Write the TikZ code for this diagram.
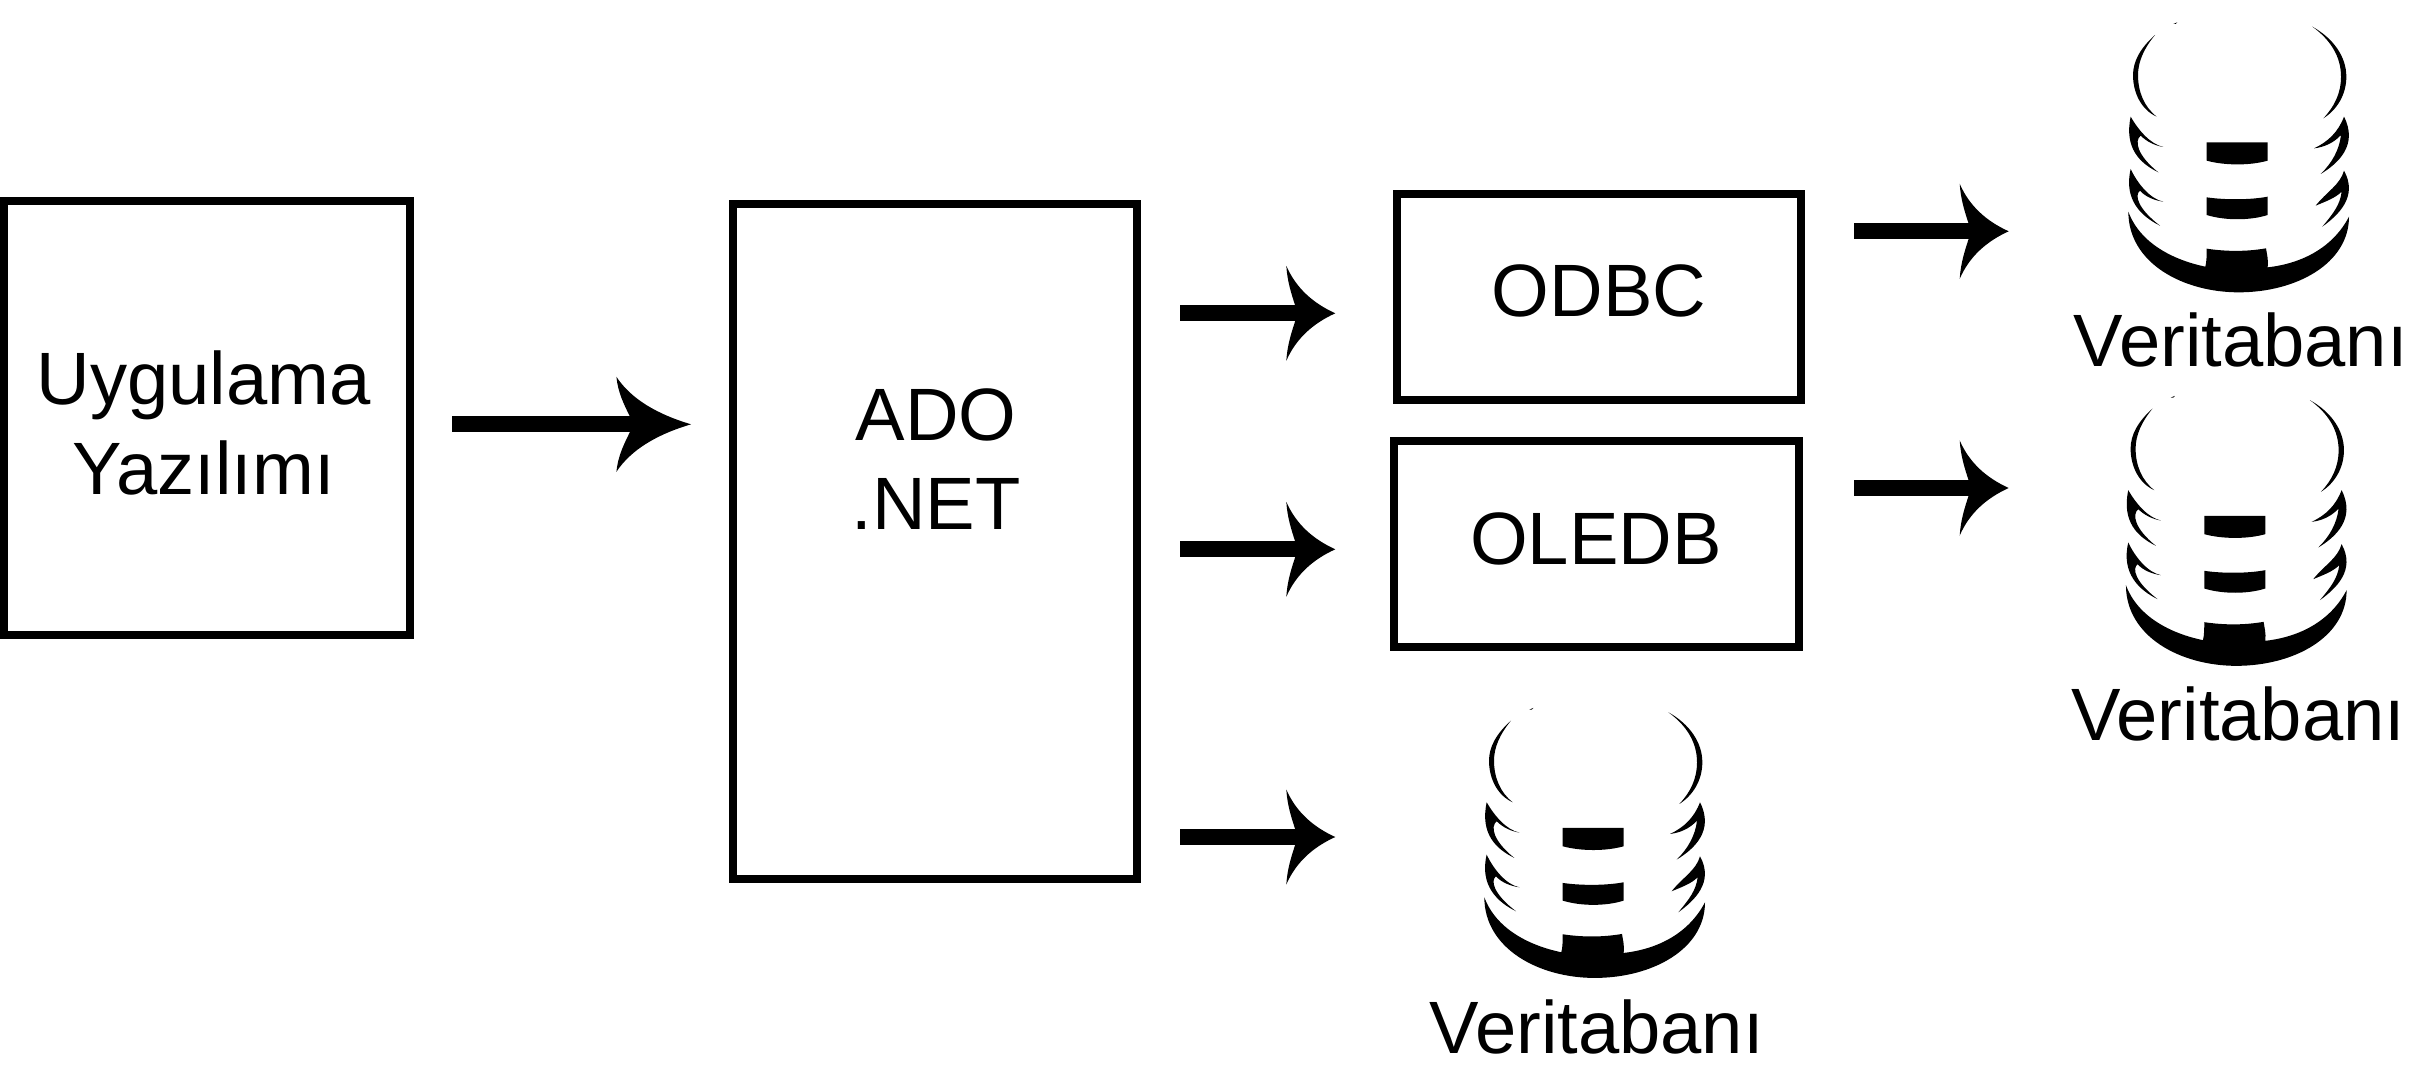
\documentclass[tikz,border=0pt]{standalone}
\usepackage{fontspec}
\setmainfont{Liberation Sans}
\usetikzlibrary{arrows.meta}
\pgfdeclarearrow{
  name=Swoosh,
  parameters={\the\pgfarrowlength},
  setup code={
    \pgfarrowssettipend{0pt}
    \pgfarrowssetbackend{-\pgfarrowlength}
    \pgfarrowssetlineend{-0.7\pgfarrowlength}
    \pgfarrowssavethe\pgfarrowlength
  },
  drawing code={
    \pgfpathmoveto{\pgfqpoint{0pt}{0pt}}
    \pgfpathcurveto{\pgfqpoint{-0.45\pgfarrowlength}{10pt}}{\pgfqpoint{-0.8\pgfarrowlength}{25pt}}{\pgfqpoint{-\pgfarrowlength}{47.5pt}}
    \pgfpathcurveto{\pgfqpoint{-0.98\pgfarrowlength}{32pt}}{\pgfqpoint{-0.9\pgfarrowlength}{20pt}}{\pgfqpoint{-0.82\pgfarrowlength}{8pt}}
    \pgfpathlineto{\pgfqpoint{-0.82\pgfarrowlength}{-8pt}}
    \pgfpathcurveto{\pgfqpoint{-0.9\pgfarrowlength}{-20pt}}{\pgfqpoint{-0.98\pgfarrowlength}{-32pt}}{\pgfqpoint{-\pgfarrowlength}{-47.5pt}}
    \pgfpathcurveto{\pgfqpoint{-0.8\pgfarrowlength}{-25pt}}{\pgfqpoint{-0.45\pgfarrowlength}{-10pt}}{\pgfqpoint{0pt}{0pt}}
    \pgfpathclose
    \pgfusepathqfill
  },
  defaults={length=49pt}
}
\tikzset{
  boxed/.style={draw=black,line width=8pt,fill=white,inner sep=0pt},
  txt/.style={inner sep=0pt,anchor=base,font=\fontsize{74.2}{89.5}\selectfont,align=center},
  conn/.style={line width=16pt,black,-{Swoosh}},
  connwide/.style={line width=16pt,black,-{Swoosh[length=74.6pt]}},
  dbicon/.pic={
    \begin{scope}[scale=0.33333]
    \fill (220,72) -- (232,67) -- (227,72) -- cycle;
    \fill (165,105) .. controls (120,145) and (99,185) .. (99,225) .. controls (99,280) and (125,330) .. (170,350) .. controls (132,320) and (114,275) .. (114,225) .. controls (114,185) and (132,145) .. (165,105) -- cycle;
    \fill (637,80) .. controls (700,115) and (739,170) .. (739,230) .. controls (739,285) and (710,330) .. (670,355) .. controls (703,320) and (723,280) .. (723,230) .. controls (723,170) and (692,120) .. (637,80) -- cycle;
    \fill (92,350) .. controls (115,390) and (150,432) .. (190,441) .. controls (165,437) and (140,425) .. (122,407) .. controls (103,422) and (110,465) .. (175,517) .. controls (120,490) and (72,445) .. (92,350) -- cycle;
    \fill (92,507) .. controls (112,550) and (150,597) .. (190,605) .. controls (165,602) and (135,590) .. (120,572) .. controls (103,585) and (112,625) .. (180,677) .. controls (125,650) and (70,600) .. (92,507) -- cycle;
    \fill (732,350) .. controls (715,395) and (685,425) .. (642,445) .. controls (670,442) and (700,430) .. (723,405) .. controls (718,450) and (695,490) .. (662,522) .. controls (715,490) and (775,435) .. (732,350) -- cycle;
    \fill (732,512) .. controls (720,555) and (680,575) .. (647,617) .. controls (675,605) and (705,595) .. (725,575) .. controls (720,615) and (700,640) .. (667,680) .. controls (715,645) and (775,590) .. (732,512) -- cycle;
    \fill (320,427) -- (503,427) -- (503,482) .. controls (450,497) and (375,497) .. (320,482) -- cycle;
    \fill (320,592) .. controls (375,600) and (450,600) .. (503,590) -- (503,645) .. controls (450,662) and (375,662) .. (320,645) -- cycle;
    \fill (85,635) .. controls (85,790) and (250,877) .. (416,877) .. controls (590,877) and (747,790) .. (747,650) .. controls (700,740) and (610,790) .. (503,802) .. controls (506,780) and (500,760) .. (498,745) .. controls (440,755) and (380,755) .. (320,746) .. controls (320,765) and (320,785) .. (316,800) .. controls (220,780) and (120,730) .. (85,635) -- cycle;
    \end{scope}
  }
}
\begin{document}
\begin{tikzpicture}[x=1pt,y=-1pt]
\useasboundingbox (0,0) rectangle (2413,1078);
\fill[white] (0,0) rectangle (2413,1078);

% boxes
\node[boxed,minimum width=405.6pt,minimum height=434pt] (app) at (206.8,418.3) {};
\node[boxed,minimum width=404.3pt,minimum height=675.3pt] (ado) at (935.2,541.7) {};
\node[boxed,minimum width=404.6pt,minimum height=206.3pt] (odbc) at (1599,297.2) {};
\node[boxed,minimum width=404.7pt,minimum height=206pt] (oledb) at (1596.3,544.3) {};

% box labels
\node[txt,anchor=center] (applabel) at (203.5,423) {Uygulama\\Yazılımı};
\node[txt,anchor=center] (adolabel) at (936,459) {ADO\\.NET};
\node[txt] (odbclabel) at (1599,316.7) {ODBC};
\node[txt] (oledblabel) at (1596,564.3) {OLEDB};

% databases
\pic (dba) at (2100,0) {dbicon};
\pic (dbb) at (2097.6,373.5) {dbicon};
\pic (dbc) at (1456,685.6) {dbicon};
\node[txt] (dbalabel) at (2240.7,366.5) {Veritabanı};
\node[txt] (dbblabel) at (2238.3,740) {Veritabanı};
\node[txt] (dbclabel) at (1596.7,1053.3) {Veritabanı};

% connector ends
\coordinate (a1s) at (452,424.3);  \coordinate (a1e) at (691,424.3);
\coordinate (a2s) at (1180,313.3); \coordinate (a2e) at (1335.3,313.3);
\coordinate (a3s) at (1180,549.3); \coordinate (a3e) at (1335.3,549.3);
\coordinate (a4s) at (1180,837);   \coordinate (a4e) at (1335.3,837);
\coordinate (a5s) at (1854,231.3); \coordinate (a5e) at (2008.7,231.3);
\coordinate (a6s) at (1854,488);   \coordinate (a6e) at (2008.7,488);

\draw[connwide] (a1s) -- (a1e);
\draw[conn] (a2s) -- (a2e);
\draw[conn] (a3s) -- (a3e);
\draw[conn] (a4s) -- (a4e);
\draw[conn] (a5s) -- (a5e);
\draw[conn] (a6s) -- (a6e);
\end{tikzpicture}
\end{document}
